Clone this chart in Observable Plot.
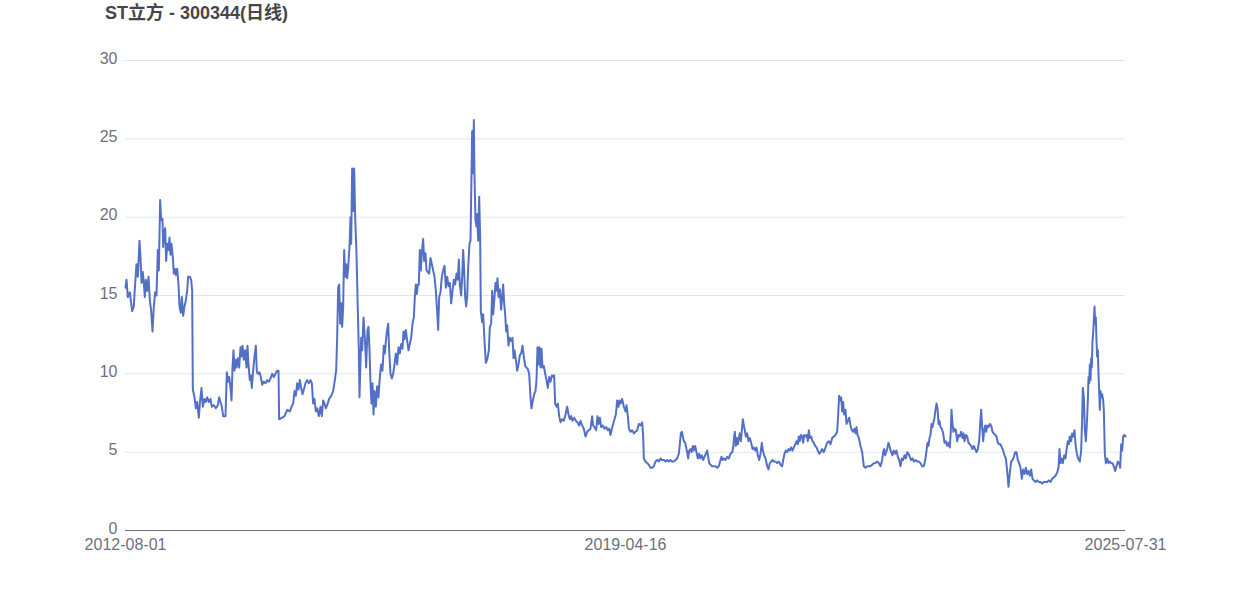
<!DOCTYPE html>
<html>
<head>
<meta charset="utf-8">
<script src="https://cdn.jsdelivr.net/npm/d3@7"></script>
<script src="https://cdn.jsdelivr.net/npm/@observablehq/plot@0.6"></script>
<style>
  html, body { margin: 0; padding: 0; background: #fff; }
  body { width: 1250px; height: 600px; overflow: hidden; font-family: "Liberation Sans", "Noto Sans CJK SC", sans-serif; }
  #title { position: relative; height: 26px; }
  #title span { position: absolute; left: 105px; top: 0; line-height: 26px; font-size: 18px; font-weight: bold; color: #464646; white-space: nowrap; }
</style>
</head>
<body>
<div id="title"><span>ST立方 - 300344(日线)</span></div>
<div id="chart"></div>
<script>
// Trading-session index (0 = first session) and daily close, in yuan.
const daily = [
  [0,15.5],[3,16.0],[7,14.9],[13,15.2],[20,14.0],[25,14.3],[27,15.1],[33,17.0],[37,16.2],[42,18.5],
  [45,17.4],[48,15.8],[52,16.5],[55,15.8],[58,14.9],[61,16.0],[65,15.3],[69,16.2],[73,14.7],[77,14.0],
  [81,12.7],[85,14.3],[89,15.2],[93,15.0],[97,17.9],[100,16.6],[104,21.1],[107,19.8],[111,19.9],[113,18.1],
  [117,19.1],[119,19.3],[122,17.2],[125,18.3],[129,17.9],[132,18.7],[135,17.6],[138,18.3],[142,17.4],[145,16.4],
  [148,16.7],[151,16.3],[155,16.7],[159,15.7],[162,14.3],[166,13.9],[169,14.9],[173,13.7],[177,14.3],[181,14.7],
  [185,15.3],[188,16.2],[193,16.2],[197,16.0],[200,15.3],
  [202,9.0],[207,8.5],[211,7.8],[215,8.2],[220,7.2],[223,8.1],[228,9.1],[232,7.9],[237,8.4],[241,8.2],
  [245,8.5],[250,8.2],[255,8.4],[259,7.9],[265,8.0],[271,7.8],[277,8.0],[281,8.5],[285,8.2],[289,7.9],
  [293,7.3],[300,7.3],[304,10.1],[308,9.5],[311,9.8],[315,9.1],[318,8.3],[321,10.4],[324,11.5],[327,10.2],
  [330,10.9],[333,10.4],[337,11.0],[341,10.4],[345,11.7],[348,11.1],[351,11.8],[355,10.9],[359,11.5],[363,10.4],
  [366,11.8],[369,10.6],[373,9.6],[376,9.9],[379,9.1],[383,10.2],[387,11.1],[391,11.8],[394,10.1],[398,10.0],
  [402,10.1],[406,9.8],[410,9.3],[415,9.5],[420,9.4],[425,9.6],[430,9.5],[435,9.7],[440,10.0],[445,9.8],
  [450,10.0],[455,10.2],[459,10.2],
  [461,7.1],[470,7.2],[477,7.3],[485,7.7],[493,7.6],[498,7.9],[503,8.1],[507,8.9],[511,8.6],[515,9.4],
  [519,9.0],[523,9.6],[527,9.1],[531,8.7],[535,9.0],[540,9.4],[545,9.6],[550,9.4],[555,9.6],[559,9.4],
  [563,8.1],[567,8.4],[571,7.6],[575,7.8],[580,7.3],[585,7.9],[589,7.3],[593,8.3],[597,8.1],[601,7.8],
  [605,8.0],[611,8.4],[617,8.6],[623,8.9],[628,9.6],[632,10.2],[635,12.3],[638,15.5],[641,15.7],[644,13.2],
  [647,14.5],[650,13.0],[653,14.3],[656,17.9],[659,16.2],[662,17.0],[665,16.1],[668,16.8],[672,18.1],[675,20.0],
  [677,18.3],[680,23.1],[684,20.4],[686,23.1],[689,20.0],[693,17.7],[697,14.0],[700,11.5],[702,8.5],[707,12.3],
  [710,11.5],[714,13.6],[718,12.3],[722,10.4],[726,12.8],[729,13.0],[732,11.5],[735,9.4],[738,8.1],[741,9.4],
  [744,7.4],[747,8.9],[751,7.9],[755,9.2],[759,8.5],[763,9.8],[767,10.6],[771,10.2],[775,11.8],[778,11.3],
  [782,12.3],[785,12.8],[788,13.2],[791,11.5],[795,10.0],[799,9.7],[803,10.0],[807,10.6],[811,11.3],[815,10.6],
  [819,11.7],[823,11.3],[827,11.9],[831,11.6],[834,12.7],[837,12.2],[841,12.8],[845,12.1],[849,11.5],[853,11.9],
  [857,12.3],[861,13.2],[865,13.6],[868,14.9],[871,15.7],[874,15.1],[877,15.7],[880,15.7],[883,17.9],[886,16.6],
  [889,17.7],[893,18.6],[896,17.2],[900,17.7],[903,16.6],[907,16.5],[911,16.4],[915,17.4],[919,17.0],[923,16.6],
  [927,16.2],[931,15.3],[934,14.3],[938,12.8],[941,14.9],[945,15.2],[949,16.2],[953,16.6],[957,16.9],[961,15.5],
  [965,16.2],[969,15.6],[973,15.8],[977,14.5],[981,15.3],[985,16.0],[989,15.7],[993,16.4],[997,16.0],[1000,17.3],
  [1003,15.7],[1007,15.0],[1010,16.2],[1013,17.9],[1016,16.6],[1019,14.9],[1022,14.3],[1025,14.9],[1028,16.8],[1032,18.3],
  [1035,18.5],[1040,25.5],[1043,22.8],[1045,26.2],[1047,22.6],[1050,19.8],[1053,19.4],[1055,20.2],[1058,18.5],[1061,21.3],
  [1064,18.7],[1066,14.0],[1070,13.3],[1073,13.8],[1077,12.1],[1081,10.7],[1085,10.9],[1090,11.5],[1093,13.0],[1097,13.2],
  [1100,15.3],[1103,13.8],[1107,14.9],[1110,15.8],[1113,15.3],[1116,16.1],[1119,14.9],[1123,15.4],[1127,14.1],[1130,14.9],
  [1133,15.7],[1136,14.5],[1139,13.8],[1142,12.7],[1145,13.1],[1149,11.8],[1153,12.3],[1157,12.1],[1161,12.3],[1164,11.0],
  [1167,11.5],[1171,10.9],[1175,10.2],[1179,10.6],[1183,11.2],[1187,11.3],[1191,11.8],[1195,11.1],[1199,10.5],[1203,10.4],
  [1207,10.3],[1211,10.0],[1215,8.5],[1218,7.8],[1222,8.3],[1226,8.7],[1230,8.9],[1233,9.6],[1236,11.7],[1239,10.6],
  [1242,11.7],[1245,10.4],[1248,11.6],[1251,10.4],[1255,10.5],[1259,10.0],[1263,9.6],[1267,9.1],[1271,9.8],[1275,9.5],
  [1279,9.9],[1283,9.8],[1286,9.9],[1289,8.1],[1293,7.9],[1297,8.1],[1301,7.3],[1305,6.9],[1310,7.1],[1315,7.0],
  [1320,7.4],[1325,7.9],[1329,7.4],[1333,7.1],[1337,7.3],[1341,7.0],[1346,7.2],[1351,7.0],[1356,6.9],[1361,6.7],
  [1365,7.0],[1370,6.7],[1375,6.5],[1380,6.0],[1385,6.3],[1390,6.4],[1395,6.5],[1400,7.3],[1403,6.7],[1407,6.6],
  [1412,6.4],[1416,7.3],[1420,6.8],[1423,7.2],[1427,6.6],[1432,6.7],[1437,6.5],[1442,6.6],[1447,6.4],[1451,6.5],
  [1455,6.1],[1459,6.5],[1463,6.8],[1467,7.1],[1471,7.4],[1475,8.3],[1479,7.9],[1482,8.3],[1485,8.1],[1490,8.4],
  [1495,7.9],[1500,7.6],[1503,8.0],[1507,7.3],[1510,6.5],[1515,6.3],[1520,6.4],[1525,6.2],[1530,6.3],[1535,6.4],
  [1540,6.8],[1545,6.7],[1550,6.9],[1553,6.0],[1555,4.6],[1560,4.4],[1565,4.3],[1570,4.2],[1575,4.0],[1580,4.0],
  [1585,4.1],[1590,4.4],[1595,4.5],[1600,4.4],[1605,4.6],[1610,4.5],[1615,4.5],[1620,4.4],[1625,4.5],[1630,4.4],
  [1635,4.5],[1640,4.4],[1645,4.4],[1650,4.5],[1655,4.6],[1660,4.9],[1663,5.5],[1666,6.2],[1669,6.3],[1672,6.0],
  [1675,5.7],[1679,5.6],[1682,5.3],[1685,5.0],[1688,4.6],[1691,5.1],[1695,5.2],[1698,5.0],[1702,5.4],[1705,5.1],
  [1709,5.4],[1713,5.0],[1717,4.6],[1721,4.9],[1725,4.6],[1729,4.8],[1733,4.5],[1737,4.7],[1741,4.9],[1745,5.1],
  [1748,4.7],[1751,4.3],[1755,4.2],[1760,4.1],[1765,4.1],[1770,4.1],[1775,4.0],[1780,4.1],[1785,4.5],[1788,4.7],
  [1791,4.5],[1795,4.6],[1800,4.5],[1805,4.7],[1810,4.6],[1815,4.9],[1820,5.0],[1823,5.3],[1826,6.0],[1828,6.3],
  [1831,5.4],[1834,5.9],[1837,5.5],[1840,5.9],[1843,6.2],[1846,5.7],[1849,6.4],[1852,7.1],[1855,6.7],[1858,6.4],
  [1861,6.0],[1865,6.2],[1869,5.7],[1873,5.9],[1877,5.6],[1881,5.2],[1885,5.3],[1889,5.1],[1893,5.3],[1897,4.8],
  [1901,4.5],[1905,4.9],[1909,5.6],[1912,5.1],[1916,4.8],[1920,4.6],[1925,4.1],[1929,3.9],[1933,4.3],[1937,4.4],
  [1941,4.5],[1945,4.4],[1950,4.4],[1955,4.3],[1960,4.4],[1965,4.2],[1970,4.1],[1973,4.5],[1977,4.9],[1981,5.1],
  [1985,5.0],[1989,5.2],[1993,5.1],[1997,5.3],[2001,5.1],[2005,5.3],[2009,5.5],[2013,5.7],[2017,5.5],[2020,6.0],
  [2023,5.7],[2026,6.1],[2030,6.0],[2033,5.6],[2036,6.1],[2040,6.0],[2044,6.1],[2047,5.7],[2050,6.4],[2053,5.9],
  [2057,6.0],[2061,5.7],[2065,5.6],[2069,5.4],[2073,5.3],[2077,5.1],[2081,4.9],[2085,5.0],[2090,5.2],[2095,5.0],
  [2100,5.3],[2105,5.6],[2110,5.7],[2115,5.5],[2120,5.9],[2125,6.0],[2130,6.1],[2135,6.3],[2138,7.4],[2141,8.6],
  [2144,8.3],[2147,8.5],[2150,7.6],[2153,8.2],[2156,7.4],[2160,7.7],[2163,6.8],[2167,7.0],[2171,7.2],[2175,6.7],
  [2179,6.4],[2183,6.3],[2187,6.5],[2190,6.2],[2193,6.6],[2196,6.1],[2200,5.9],[2205,5.4],[2210,5.0],[2215,4.1],
  [2220,4.0],[2225,4.1],[2230,4.1],[2235,4.1],[2240,4.2],[2245,4.3],[2250,4.3],[2255,4.4],[2260,4.3],[2265,4.1],
  [2270,4.5],[2273,5.0],[2276,5.2],[2279,4.8],[2282,5.0],[2285,5.2],[2289,5.6],[2293,5.3],[2297,5.0],[2301,4.8],
  [2305,5.1],[2309,4.9],[2313,5.1],[2317,4.7],[2321,4.5],[2325,4.1],[2329,4.6],[2333,4.5],[2337,4.8],[2341,4.6],
  [2345,5.0],[2349,4.9],[2353,4.7],[2357,4.5],[2361,4.6],[2365,4.4],[2370,4.5],[2375,4.4],[2380,4.4],[2385,4.3],
  [2390,4.1],[2395,4.1],[2400,4.6],[2403,5.1],[2406,5.6],[2409,5.4],[2412,5.9],[2415,6.1],[2418,6.8],[2421,6.6],
  [2424,6.9],[2427,7.2],[2430,7.7],[2433,8.1],[2436,7.8],[2439,6.8],[2442,7.0],[2445,6.6],[2449,6.5],[2453,6.2],
  [2457,5.6],[2461,5.7],[2465,5.4],[2469,5.6],[2473,5.3],[2476,6.4],[2478,7.7],[2481,6.8],[2484,6.3],[2487,6.5],
  [2491,6.4],[2495,5.7],[2499,6.1],[2503,6.0],[2507,6.3],[2511,5.9],[2514,6.2],[2517,5.7],[2521,6.1],[2525,6.0],
  [2529,5.6],[2533,5.5],[2537,5.4],[2541,5.2],[2545,5.4],[2549,5.2],[2553,5.0],[2557,5.2],[2561,5.7],[2564,6.8],
  [2567,7.7],[2570,6.6],[2573,5.7],[2576,6.4],[2579,6.7],[2582,6.3],[2585,6.7],[2589,6.6],[2593,6.8],[2597,6.7],
  [2601,6.3],[2605,6.2],[2609,6.1],[2613,6.0],[2617,5.6],[2621,5.5],[2625,5.5],[2629,5.3],[2633,5.1],[2637,4.8],
  [2641,4.6],[2645,3.8],[2649,2.8],[2653,3.7],[2657,4.4],[2661,4.5],[2665,4.7],[2669,5.0],[2673,5.0],[2677,4.5],
  [2681,4.3],[2685,4.0],[2689,3.3],[2693,3.9],[2697,3.6],[2701,4.0],[2705,3.6],[2709,3.8],[2713,3.5],[2717,3.9],
  [2721,3.3],[2725,3.2],[2730,3.1],[2735,3.2],[2740,3.1],[2745,3.1],[2750,3.0],[2755,3.1],[2760,3.1],[2765,3.1],
  [2770,3.2],[2775,3.1],[2780,3.3],[2785,3.4],[2790,3.5],[2795,3.7],[2799,4.0],[2802,5.2],[2805,4.3],[2808,4.6],
  [2812,4.3],[2816,4.8],[2820,4.6],[2824,5.3],[2827,5.7],[2830,5.5],[2833,6.0],[2837,5.7],[2840,6.2],[2844,6.0],
  [2847,6.4],[2850,5.5],[2854,4.9],[2858,4.6],[2863,4.4],[2867,5.1],[2870,7.2],[2872,9.1],[2875,8.5],[2878,6.4],
  [2881,5.7],[2884,6.8],[2887,8.3],[2889,9.8],[2891,9.4],[2893,10.6],[2895,9.6],[2897,11.0],[2899,10.4],[2901,12.1],
  [2903,12.6],[2905,13.4],[2907,14.3],[2909,13.2],[2911,13.6],[2913,12.1],[2915,11.1],[2917,11.5],[2919,10.0],[2921,8.9],
  [2923,7.7],[2925,8.9],[2927,8.5],[2930,8.7],[2933,8.3],[2935,7.7],[2938,4.9],[2941,4.3],[2945,4.6],[2949,4.3],
  [2953,4.4],[2957,4.3],[2961,4.3],[2965,4.1],[2969,3.8],[2973,4.1],[2977,4.4],[2981,4.3],[2984,4.0],[2987,5.5],
  [2990,5.1],[2993,6.0],[2996,6.1],[3000,6.0]
];

// Category axis: first, middle and last session dates.
const lastSession = 3000;
const xTicks = [0, 1500, 3000];
const xTickLabels = ["2012-08-01", "2019-04-16", "2025-07-31"];
const yTicks = [0, 5, 10, 15, 20, 25, 30];

const rows = daily.map(([session, close]) => ({session, close}));
const labelAt = new Map(xTicks.map((t, i) => [t, xTickLabels[i]]));

const axisGray = "#6e7079";

const chart = Plot.plot({
  width: 1250,
  height: 574,
  marginLeft: 125,
  marginRight: 125,
  marginTop: 34,
  marginBottom: 70,
  style: {fontFamily: '"Liberation Sans", "Noto Sans CJK SC", sans-serif', background: "#fff"},
  x: {domain: [0, lastSession], axis: null},
  y: {domain: [0, 30], axis: null},
  marks: [
    Plot.ruleY(yTicks.filter(d => d > 0), {stroke: "#e0e6f1", strokeWidth: 1}),
    Plot.ruleY([0], {stroke: axisGray, strokeWidth: 1}),
    Plot.axisY(yTicks, {tickSize: 0, tickPadding: 8, fontSize: 16, color: axisGray, label: null, dy: -2}),
    Plot.axisX(xTicks, {tickSize: 0, tickPadding: 8, fontSize: 16, color: axisGray, label: null,
      tickFormat: d => labelAt.get(d)}),
    Plot.line(rows, {x: "session", y: "close", stroke: "#5470c6", strokeWidth: 2})
  ]
});

document.getElementById("chart").appendChild(chart);
</script>
</body>
</html>
